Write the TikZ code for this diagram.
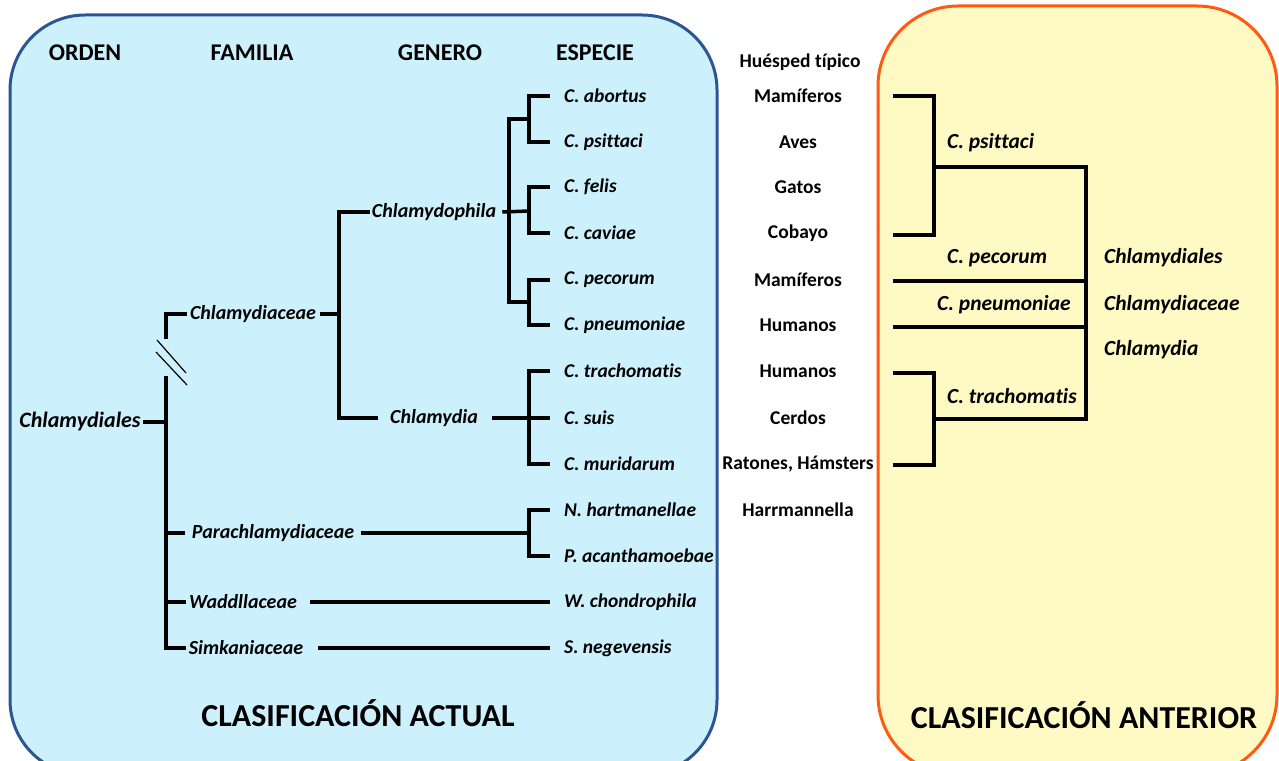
\documentclass[tikz,border=0pt]{standalone}
\usepackage{fontspec}
\setmainfont{Carlito}[Ligatures=NoCommon]
\usetikzlibrary{calc,positioning}
\definecolor{celeste}{HTML}{CCF1FD}
\definecolor{azul}{HTML}{2C5594}
\definecolor{crema}{HTML}{FFFAC4}
\definecolor{naranja}{HTML}{FF5B10}
\tikzset{
  rama/.style={line width=3.5pt,black},
  tit/.style={font=\bfseries\fontsize{24}{28}\selectfont},
  grande/.style={font=\bfseries\fontsize{32}{36}\selectfont},
  esp/.style={anchor=west,inner sep=2pt,font=\bfseries\itshape\fontsize{19.5}{22}\selectfont},
  ant/.style={esp,font=\bfseries\itshape\fontsize{21.5}{24}\selectfont},
  hue/.style={inner sep=2pt,font=\bfseries\fontsize{19.5}{22}\selectfont},
  gen/.style={inner sep=2pt,font=\bfseries\itshape\fontsize{20}{24}\selectfont},
}
\begin{document}
\begin{tikzpicture}[x=1pt,y=-1pt]
    \useasboundingbox (0,0) rectangle (1279,760);
    \clip (0,0) rectangle (1279,760);
    \draw[azul,line width=3pt,fill=celeste,rounded corners=75pt] (10,15) rectangle (717,775);
    \draw[naranja,line width=3pt,fill=crema,rounded corners=80pt] (878,6) rectangle (1277,775);
    % encabezados
    \node[tit] (Ord) at (85,53) {ORDEN};
    \node[tit] (Fam) at (252,53) {FAMILIA};
    \node[tit] (Gen) at (440,53) {GENERO};
    \node[tit] (Esp) at (595,53) {ESPECIE};
    \node[hue] (Hue) at (800,62) {Huésped típico};
    % especies
    \foreach \t/\y [count=\i] in {C. abortus/96,C. psittaci/142,C. felis/187,C. caviae/233,
        C. pecorum/280,C. pneumoniae/325,C. trachomatis/371,C. suis/418,C. muridarum/464,
        N. hartmanellae/510,P. acanthamoebae/556,W. chondrophila/602,S. negevensis/648}
        \node[esp] (s\i) at (562,\y) {\t};
    \foreach \t/\y [count=\i] in {Mamíferos/96,Aves/142,Gatos/187,Cobayo/233,Mamíferos/280,
        Humanos/325,Humanos/371,Cerdos/418,{Ratones, Hámsters}/464,Harrmannella/510}
        \node[hue] (h\i) at (798,\y) {\t};
    % generos y familias
    \node[gen] (Cdp) at (434,212) {Chlamydophila};
    \node[gen] (Cla) at (434,418) {Chlamydia};
    \node[gen] (Cce) at (253,314) {Chlamydiaceae};
    \node[gen] (Par) at (273,533) {Parachlamydiaceae};
    \node[gen] (Wad) at (243,602) {Waddllaceae};
    \node[gen] (Sim) at (246,648) {Simkaniaceae};
    \node[gen,font=\bfseries\itshape\fontsize{22}{26}\selectfont] (Cal) at (80,422) {Chlamydiales};
    \coordinate (K1) at (529,119);
    \coordinate (K2) at (529,211);
    \coordinate (K3) at (529,302);
    \coordinate (K4) at (529,418);
    \coordinate (K5) at (529,533);
    \coordinate (F1) at (339,314);
    \coordinate (O1) at (166,339);
    \coordinate (O2) at (166,376);
    % arbol actual
    \draw[rama] ([xshift=-12pt]s1.west) -| (K1) |- ([xshift=-12pt]s2.west);
    \draw[rama] ([xshift=-12pt]s3.west) -| (K2) |- ([xshift=-12pt]s4.west);
    \draw[rama] ([xshift=-12pt]s5.west) -| (K3) |- ([xshift=-12pt]s6.west);
    \draw[rama] (K1) -- ++(-20,0) |- (K3);
    \draw[rama] ([xshift=4pt]Cdp.east) -- (K2);
    \draw[rama] ([xshift=-12pt]s7.west) -| (K4) |- ([xshift=-12pt]s9.west);
    \draw[rama] (K4) -- ([xshift=-12pt]s8.west);
    \draw[rama] ([xshift=12pt]Cla.east) -- (K4);
    \draw[rama] (Cdp.west) -| (F1) |- ([xshift=-10pt]Cla.west);
    \draw[rama] ([xshift=2pt]Cce.east) -- (F1);
    \draw[rama] (O1) |- ([xshift=-1pt]Cce.west);
    \draw[line width=1.2pt] (157,340) -- (186,373);
    \draw[line width=1.2pt] (156,352) -- (187,385);
    \draw[rama] (O2) |- ([xshift=-1pt]Sim.west);
    \draw[rama] (Cal.east) -- (Cal.east -| O2);
    \draw[rama] (Par.west -| O2) -- ([xshift=-5pt]Par.west);
    \draw[rama] (Wad.west -| O2) -- ([xshift=-1pt]Wad.west);
    \draw[rama] ([xshift=5pt]Par.east) -- (K5);
    \draw[rama] ([xshift=-12pt]s10.west) -| (K5) |- ([xshift=-12pt]s11.west);
    \draw[rama] ([xshift=11pt]Wad.east) -- ([xshift=-12pt]s12.west);
    \draw[rama] ([xshift=13pt]Sim.east) -- ([xshift=-12pt]s13.west);
    % clasificacion anterior
    \foreach \y [count=\i] in {96,235,281,327,373,465}
        \coordinate (E\i) at (893,\y);
    \coordinate (R1) at (934,167);
    \coordinate (R2) at (934,419);
    \coordinate (Q1) at (1086,167);
    \coordinate (Q2) at (1086,419);
    \draw[rama] (E1) -| (R1) |- (E2);
    \draw[rama] (E5) -| (R2) |- (E6);
    \draw[rama] (R1) -- (Q1) -- (Q2) -- (R2);
    \draw[rama] (E3) -- (E3 -| Q1);
    \draw[rama] (E4) -- (E4 -| Q1);
    \node[ant] (Aps) at (945,143) {C. psittaci};
    \node[ant] (Ape) at (945,258) {C. pecorum};
    \node[ant] (Apn) at (935,305) {C. pneumoniae};
    \node[ant] (Atr) at (945,396) {C. trachomatis};
    \node[ant] (Bal) at (1102,258) {Chlamydiales};
    \node[ant] (Bce) at (1102,305) {Chlamydiaceae};
    \node[ant] (Bla) at (1102,350) {Chlamydia};
    \node[grande] (Act) at (358,713) {CLASIFICACIÓN ACTUAL};
    \node[grande] (Ant) at (1084,715) {CLASIFICACIÓN ANTERIOR};
\end{tikzpicture}
\end{document}
